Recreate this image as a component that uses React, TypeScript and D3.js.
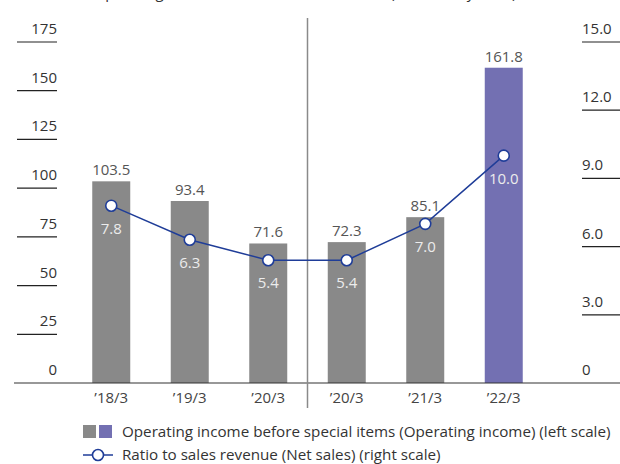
import React from "react";
import * as d3 from "d3";

const categories = ["’18/3", "’19/3", "’20/3", "’20/3 ", "’21/3", "’22/3"];
const labels = ["’18/3", "’19/3", "’20/3", "’20/3", "’21/3", "’22/3"];
const incomeValues = [103.5, 93.4, 71.6, 72.3, 85.1, 161.8];
const ratioValues = [7.8, 6.3, 5.4, 5.4, 7.0, 10.0];
const barColors = ["#898989", "#898989", "#898989", "#898989", "#898989", "#7370b2"];
const leftTicks = [0, 25, 50, 75, 100, 125, 150, 175];
const rightTicks = [0, 3, 6, 9, 12, 15];
const legendItems = [
  "Operating income before special items (Operating income) (left scale)",
  "Ratio to sales revenue (Net sales) (right scale)",
];
const titleText = "Operating income / Ratio to sales revenue (Billions of yen, %)";

const W = 620;
const H = 464;
const baseY = 383;
const topY = 42;
const FONT = "'Open Sans', 'Noto Sans', sans-serif";

export default function App() {
  const x = d3
    .scaleBand<string>()
    .domain(categories)
    .range([72, 543])
    .paddingInner(0.516)
    .paddingOuter(0.258);
  const yL = d3.scaleLinear().domain([0, 175]).range([baseY, topY]);
  const yR = d3.scaleLinear().domain([0, 15]).range([baseY, topY]);
  const bw = x.bandwidth();
  const cx = (c: string) => (x(c) as number) + bw / 2;

  const line = d3
    .line<number>()
    .x((_, i) => cx(categories[i]))
    .y((d) => yR(d));

  return (
    <svg
      width={W}
      height={H}
      style={{ position: "absolute", left: 0, top: 0, background: "#fff" }}
      fontFamily={FONT}
    >
      <text x={305} y={-2} textAnchor="middle" fontSize={15} fill="#333">
        {titleText}
      </text>

      {/* left ticks */}
      {leftTicks.map((t) => (
        <g key={"l" + t}>
          {t !== 0 && (
            <line x1={17} x2={57} y1={yL(t)} y2={yL(t)} stroke="#222" strokeWidth={1.2} />
          )}
          <text x={57} y={yL(t) - 8} textAnchor="end" fontSize={15} fill="#333">
            {t}
          </text>
        </g>
      ))}
      {/* right ticks */}
      {rightTicks.map((t) => (
        <g key={"r" + t}>
          {t !== 0 && (
            <line x1={582} x2={620} y1={yR(t)} y2={yR(t)} stroke="#222" strokeWidth={1.2} />
          )}
          <text x={582} y={yR(t) - 8} textAnchor="start" fontSize={15} fill="#333">
            {t === 0 ? "0" : t.toFixed(1)}
          </text>
        </g>
      ))}

      {/* bars */}
      {incomeValues.map((v, i) => (
        <g key={"b" + i}>
          <rect
            x={x(categories[i])}
            y={yL(v)}
            width={bw}
            height={baseY - yL(v)}
            fill={barColors[i]}
          />
          <text
            x={cx(categories[i])}
            y={yL(v) - 6}
            textAnchor="middle"
            fontSize={15}
            fill="#555"
          >
            {v.toFixed(1)}
          </text>
        </g>
      ))}

      {/* baseline */}
      <line x1={14} x2={620} y1={baseY} y2={baseY} stroke="#333" strokeWidth={1.2} />

      {/* separator */}
      <line x1={307.5} x2={307.5} y1={18} y2={408} stroke="#8a8a8a" strokeWidth={1.5} />

      {/* x labels */}
      {labels.map((l, i) => (
        <text
          key={"x" + i}
          x={cx(categories[i])}
          y={403}
          textAnchor="middle"
          fontSize={15}
          fill="#444"
        >
          {l}
        </text>
      ))}

      {/* ratio line */}
      <path d={line(ratioValues) || ""} fill="none" stroke="#1f3d98" strokeWidth={1.5} />
      {ratioValues.map((v, i) => (
        <g key={"p" + i}>
          <circle
            cx={cx(categories[i])}
            cy={yR(v)}
            r={5.5}
            fill="#fff"
            stroke="#1f3d98"
            strokeWidth={1.6}
          />
          <text
            x={cx(categories[i])}
            y={yR(v) + 28}
            textAnchor="middle"
            fontSize={15}
            fill="#ececec"
          >
            {v.toFixed(1)}
          </text>
        </g>
      ))}

      {/* legend */}
      <rect x={83} y={425} width={13} height={13} fill="#898989" />
      <rect x={99} y={425} width={13} height={13} fill="#7370b2" />
      <text x={122} y={437} fontSize={15.2} fill="#333">
        {legendItems[0]}
      </text>
      <line x1={83} x2={113} y1={455} y2={455} stroke="#1f3d98" strokeWidth={1.5} />
      <circle cx={98} cy={455} r={5.5} fill="#fff" stroke="#1f3d98" strokeWidth={1.6} />
      <text x={122} y={460} fontSize={15.2} fill="#333">
        {legendItems[1]}
      </text>
    </svg>
  );
}
